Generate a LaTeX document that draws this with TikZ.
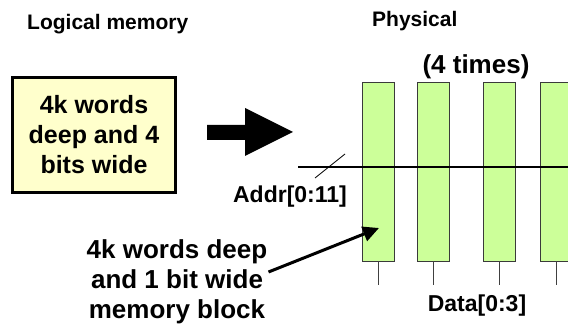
\documentclass[tikz,border=0pt]{standalone}
\usepackage{fontspec}
\setmainfont{Liberation Sans}
\usetikzlibrary{arrows.meta,positioning,calc}
\definecolor{memyellow}{HTML}{FFFFCC}
\definecolor{memgreen}{HTML}{CCFF99}
\definecolor{memedge}{HTML}{3A3A3A}

\begin{document}
\begin{tikzpicture}[
  x=1pt, y=-1pt,
  heading/.style={font=\fontsize{21}{25}\selectfont\bfseries, inner sep=0pt},
  big/.style={font=\fontsize{26}{30}\selectfont\bfseries, align=center, inner sep=0pt},
  sig/.style={font=\fontsize{23}{27}\selectfont\bfseries, inner sep=0pt},
  logic/.style={rectangle, draw=black, line width=3.2pt, fill=memyellow,
                minimum width=163pt, minimum height=115pt, inner sep=0pt,
                font=\fontsize{25}{30}\selectfont\bfseries, align=center},
  bank/.style={rectangle, draw=memedge, line width=0.8pt, fill=memgreen,
               minimum width=32pt, minimum height=179pt, inner sep=0pt},
  bus/.style={draw=black, line width=1.6pt},
  wire/.style={draw=black!75, line width=0.8pt},
  pointer/.style={draw=black, line width=3pt, -{Triangle[length=16pt, width=15pt]}}
]
\useasboundingbox (0,0) rectangle (568,328);

% logical side
\node[heading, anchor=west] (lm) at (27,24) {Logical memory};
\node[logic] (lbox) at (94,135) {4k words\\deep and 4\\bits wide};
\fill (207,125) -- (245,125) -- (245,108) -- (293,132) -- (245,156)
      -- (245,140) -- (207,140) -- cycle;

% physical side
\node[heading, anchor=west] (ph) at (372,21) {Physical};
\node[big] (times) at (476,67) {(4 times)};
\foreach \i/\x in {1/378, 2/433.5, 3/499.5, 4/556} {
  \node[bank] (b\i) at (\x,171.5) {};
  \draw[wire] (b\i.south) -- ++(0,24);
}

\coordinate (busL) at (298,167);
\coordinate (busR) at (568,167);
\draw[bus] (busL) -- (busR);
\draw[line width=0.8pt] ($(busL)+(17,11)$) -- ($(busL)+(47,-13)$);
\node[sig] (addr) at (290,197) {Addr[0:11]};
\node[sig] (data) at (477,306) {Data[0:3]};

\node[big] (blk) at (177,282) {4k words deep\\and 1 bit wide\\memory block};
\draw[pointer] ($(blk.east)+(1,-10)$) -- ($(b1.center)+(1,56.5)$);
\end{tikzpicture}
\end{document}
